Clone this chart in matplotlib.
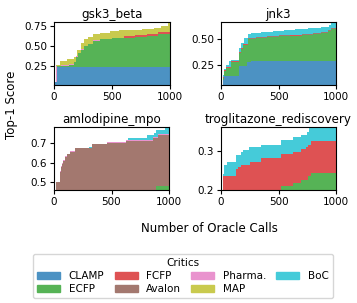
import matplotlib
matplotlib.use("Agg")
import matplotlib.pyplot as plt
from matplotlib.patches import Patch

critics = ["CLAMP", "ECFP", "FCFP", "Avalon", "Pharma.", "MAP", "BoC"]
colors = ["#4c92c3", "#56b356", "#de5253", "#a3786f", "#e993ce", "#c9ca4e", "#45cbd9"]
tasks = ["gsk3_beta", "jnk3", "amlodipine_mpo", "troglitazone_rediscovery"]
ylims = [(0.015, 0.805), (0.05, 0.673), (0.46, 0.785), (0.2, 0.362)]
yticks = [[0.25, 0.5, 0.75], [0.25, 0.5], [0.5, 0.6, 0.7], [0.2, 0.3]]

# best-so-far step curves: (call counts, score)
gsk3_beta = {
    "CLAMP": ([0, 10, 25], [0.02, 0.05, 0.245]),
    "ECFP": ([0, 25, 60, 125, 175, 190, 210, 235, 260, 295, 340, 400, 500, 600, 700, 800, 900],
             [0.02, 0.25, 0.255, 0.27, 0.30, 0.37, 0.42, 0.46, 0.50, 0.53, 0.57, 0.59, 0.60, 0.61, 0.62, 0.635, 0.655]),
    "FCFP": ([0, 25, 125, 190, 235, 295, 340, 400, 500, 600, 700, 800, 900],
             [0.02, 0.25, 0.27, 0.37, 0.46, 0.53, 0.57, 0.59, 0.61, 0.63, 0.64, 0.65, 0.675]),
    "Avalon": ([0, 30, 300], [0.015, 0.15, 0.2]),
    "Pharma.": ([0, 20, 60, 125, 190, 235, 295, 340, 420],
                [0.02, 0.255, 0.26, 0.28, 0.38, 0.47, 0.535, 0.575, 0.595]),
    "MAP": ([0, 20, 50, 75, 110, 170, 200, 230, 260, 290, 340, 400, 480, 560, 650, 760, 860, 920, 980],
            [0.02, 0.26, 0.31, 0.32, 0.34, 0.36, 0.46, 0.54, 0.59, 0.62, 0.65, 0.67, 0.69, 0.70, 0.71, 0.72, 0.73, 0.76, 0.80]),
    "BoC": ([0, 40, 400], [0.02, 0.18, 0.22]),
}

jnk3 = {
    "CLAMP": ([0, 15, 30, 160, 226, 261], [0.05, 0.10, 0.135, 0.24, 0.28, 0.29]),
    "ECFP": ([0, 15, 30, 45, 87, 160, 175, 190, 232, 300, 400, 500, 600, 700, 800, 870, 930, 960],
             [0.05, 0.12, 0.19, 0.22, 0.28, 0.37, 0.41, 0.45, 0.50, 0.51, 0.52, 0.53, 0.535, 0.54, 0.55, 0.56, 0.58, 0.60]),
    "FCFP": ([0, 15, 30, 45, 87, 160, 175, 190, 232, 300, 400, 500, 600, 700, 800, 870, 930, 960],
             [0.05, 0.125, 0.198, 0.228, 0.288, 0.378, 0.418, 0.458, 0.508, 0.518, 0.528, 0.538, 0.543, 0.548, 0.558, 0.568, 0.588, 0.608]),
    "Avalon": ([0, 232, 300, 400, 500, 600, 700, 800, 870, 930, 960],
               [0.04, 0.512, 0.522, 0.532, 0.542, 0.547, 0.552, 0.562, 0.572, 0.592, 0.612]),
    "Pharma.": ([0, 45, 190, 300, 600], [0.05, 0.19, 0.42, 0.48, 0.50]),
    "MAP": ([0, 45, 190, 300, 600], [0.05, 0.17, 0.40, 0.46, 0.49]),
    "BoC": ([0, 15, 30, 45, 72, 87, 160, 175, 200, 232, 260, 350, 450, 550, 640, 760, 870, 940, 960],
            [0.05, 0.15, 0.21, 0.25, 0.29, 0.30, 0.42, 0.47, 0.51, 0.555, 0.565, 0.575, 0.585, 0.595, 0.60, 0.61, 0.625, 0.64, 0.673]),
}

amlodipine_mpo = {
    "CLAMP": ([0, 500], [0.35, 0.42]),
    "ECFP": ([0, 300, 890], [0.40, 0.44, 0.48]),
    "FCFP": ([0, 500], [0.38, 0.44]),
    "Avalon": ([0, 17, 52, 58, 67, 81, 96, 110, 139, 182, 327, 457, 630, 861, 905],
               [0.46, 0.50, 0.555, 0.58, 0.595, 0.61, 0.63, 0.645, 0.655, 0.675, 0.695, 0.705, 0.715, 0.73, 0.745]),
    "Pharma.": ([0, 17, 52, 58, 67, 81, 96, 110, 139, 182, 327, 457, 630, 861, 905],
                [0.46, 0.503, 0.558, 0.583, 0.598, 0.613, 0.633, 0.648, 0.659, 0.679, 0.699, 0.709, 0.718, 0.733, 0.748]),
    "MAP": ([0, 100, 400, 800], [0.44, 0.58, 0.66, 0.70]),
    "BoC": ([0, 100, 300, 645, 809, 867, 890, 962], [0.45, 0.60, 0.68, 0.73, 0.745, 0.755, 0.77, 0.778]),
}

troglitazone_rediscovery = {
    "CLAMP": ([0, 1000], [0.15, 0.18]),
    "ECFP": ([0, 522, 623, 696, 754, 783], [0.19, 0.21, 0.217, 0.226, 0.235, 0.243]),
    "FCFP": ([0, 17, 130, 145, 174, 255, 348, 522, 623, 696, 739, 754, 783],
             [0.2, 0.237, 0.254, 0.258, 0.265, 0.272, 0.282, 0.293, 0.299, 0.306, 0.31, 0.315, 0.326]),
    "Avalon": ([0, 200, 600], [0.19, 0.24, 0.27]),
    "Pharma.": ([0, 200, 600], [0.19, 0.235, 0.265]),
    "MAP": ([0, 200, 600], [0.19, 0.23, 0.26]),
    "BoC": ([0, 14, 29, 52, 130, 174, 188, 246, 348, 522, 623, 696, 748, 768],
            [0.2, 0.24, 0.265, 0.272, 0.289, 0.299, 0.302, 0.31, 0.316, 0.328, 0.336, 0.342, 0.349, 0.362]),
}

all_data = [gsk3_beta, jnk3, amlodipine_mpo, troglitazone_rediscovery]

W, H = 357, 303
fig = plt.figure(figsize=(W / 100, H / 100), dpi=100)

# axes boxes in pixels: left, top, right, bottom
boxes = [(54, 22, 170, 85), (221, 22, 336, 85), (54, 127, 169, 190), (221, 127, 336, 190)]

for i in range(4):
    l, t, r, b = boxes[i]
    ax = fig.add_axes([l / W, 1 - b / H, (r - l) / W, (b - t) / H])
    lo, hi = ylims[i]
    # later critics first, so earlier ones sit on top
    for name, c in reversed(list(zip(critics, colors))):
        xs, ys = all_data[i][name]
        xs = list(xs) + [1000]
        ys = list(ys) + [ys[-1]]
        ax.fill_between(xs, ys, lo - 1, step="post", color=c, lw=0)
    ax.set_xlim(0, 1000)
    ax.set_ylim(lo, hi)
    ax.set_xticks([0, 500, 1000])
    ax.set_yticks(yticks[i])
    ax.tick_params(labelsize=7.5, length=3, pad=2)
    ax.set_title(tasks[i], fontsize=8.6, pad=3)

fig.text(12 / W, 1 - 105 / H, "Top-1 Score", rotation=90, ha="center", va="center", fontsize=8.5)
fig.text(209 / W, 1 - 229 / H, "Number of Oracle Calls", ha="center", va="center", fontsize=8.5)

handles = [Patch(color=c, label=n) for n, c in zip(critics, colors)]
fig.legend(handles=handles, title="Critics", ncol=4, loc="center",
           bbox_to_anchor=(183 / W, 1 - 276 / H), fontsize=7.5, title_fontsize=7.5,
           handlelength=2.2, columnspacing=1.0, handletextpad=0.8, labelspacing=0.3,
           borderpad=0.4)

fig.savefig("out.png", dpi=100)
